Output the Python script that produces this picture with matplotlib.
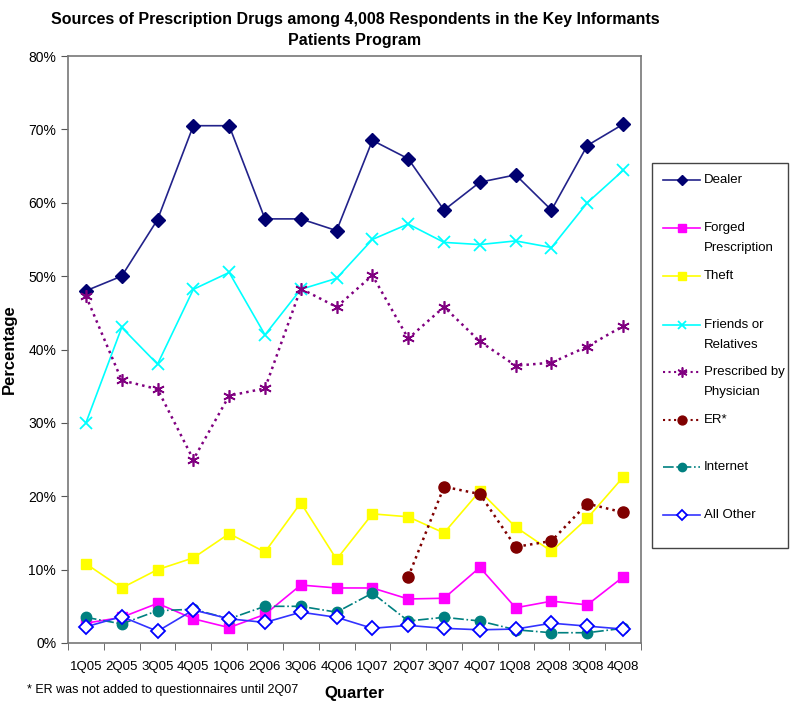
import matplotlib
matplotlib.use("Agg")
import matplotlib.pyplot as plt
from matplotlib.lines import Line2D
from matplotlib.patches import Rectangle
import numpy as np

plt.rcParams['font.family'] = ['Liberation Sans', 'DejaVu Sans']

quarters = ["1Q05", "2Q05", "3Q05", "4Q05", "1Q06", "2Q06", "3Q06", "4Q06",
            "1Q07", "2Q07", "3Q07", "4Q07", "1Q08", "2Q08", "3Q08", "4Q08"]

dealer = [48.0, 50.0, 57.7, 70.5, 70.5, 57.8, 57.8, 56.2, 68.5, 66.0, 59.0, 62.8, 63.8, 59.0, 67.8, 70.7]
forged = [2.7, 3.5, 5.4, 3.3, 2.1, 3.9, 7.9, 7.5, 7.5, 6.0, 6.1, 10.3, 4.8, 5.7, 5.2, 9.0]
theft = [10.8, 7.5, 10.0, 11.6, 14.9, 12.4, 19.1, 11.4, 17.6, 17.2, 15.0, 20.7, 15.8, 12.5, 17.0, 22.6]
friends = [30.0, 43.0, 38.0, 48.2, 50.5, 42.0, 48.2, 49.7, 55.0, 57.1, 54.6, 54.3, 54.8, 53.9, 60.0, 64.4]
prescribed = [47.3, 35.8, 34.6, 25.0, 33.7, 34.7, 48.3, 45.8, 50.1, 41.5, 45.8, 41.1, 37.8, 38.2, 40.4, 43.2]
er = [None] * 9 + [9.0, 21.3, 20.3, 13.1, 13.9, 19.0, 17.8]
internet = [3.5, 2.6, 4.4, 4.6, 3.3, 5.0, 5.0, 4.2, 6.8, 3.0, 3.5, 3.0, 1.8, 1.4, 1.4, 2.0]
all_other = [2.2, 3.6, 1.6, 4.5, 3.3, 2.8, 4.2, 3.5, 2.0, 2.4, 2.0, 1.8, 1.9, 2.7, 2.3, 1.9]

series = [
    ("Dealer", dealer, dict(color="#22228A", ls="-", marker="D", ms=7, mfc="#000070", mec="#000070")),
    ("Forged\nPrescription", forged, dict(color="#FF00FF", ls="-", marker="s", ms=6.5, mfc="#FF00FF", mec="#FF00FF")),
    ("Theft", theft, dict(color="#FFFF00", ls="-", marker="s", ms=6.5, mfc="#FFFF00", mec="#FFFF00")),
    ("Friends or\nRelatives", friends, dict(color="#00FFFF", ls="-", marker="x", ms=8, mew=1.3)),
    ("Prescribed by\nPhysician", prescribed, dict(color="#800080", ls=":", lw=1.8, marker=(6, 2, 0), ms=9, mew=1.2)),
    ("ER*", er, dict(color="#800000", ls=":", lw=1.8, marker="o", ms=8, mfc="#800000", mec="#800000")),
    ("Internet", internet, dict(color="#008080", ls="-.", marker="o", ms=7.5, mfc="#008080", mec="#008080")),
    ("All Other", all_other, dict(color="#3333FF", ls="-", marker="D", ms=7, mfc="white", mec="#0000FF", mew=1.3)),
]

fig = plt.figure(figsize=(7.91, 7.02), dpi=100)
ax = fig.add_axes([68 / 791, 1 - 643 / 702, (641 - 68) / 791, (643 - 56) / 702])

x = np.arange(len(quarters))
for name, vals, st in series:
    v = np.array([np.nan if a is None else a for a in vals], dtype=float)
    kw = dict(st)
    kw.setdefault("lw", 1.2)
    ax.plot(x, v, **kw)

ax.set_xlim(-0.5, len(quarters) - 0.5)
ax.set_ylim(0, 80)
ax.set_yticks(np.arange(0, 81, 10))
ax.set_yticklabels([f"{t}%" for t in range(0, 81, 10)], fontsize=10)
ax.set_xticks(x)
ax.set_xticklabels(quarters, fontsize=9.5)
ax.tick_params(axis="x", length=0, pad=13)
ax.set_xticks(np.arange(-0.5, len(quarters), 1), minor=True)
ax.tick_params(axis="x", which="minor", length=5, direction="out", color="#555555")
ax.tick_params(axis="y", length=5, direction="out", color="#555555")
for s in ax.spines.values():
    s.set_color("#777777")
    s.set_linewidth(1.2)

ax.set_ylabel("Percentage", fontsize=12, fontweight="bold", labelpad=8)
ax.set_xlabel("Quarter", fontsize=12, fontweight="bold", labelpad=9)
fig.text(355 / 791, 1 - 30 / 702, "Sources of Prescription Drugs among 4,008 Respondents in the Key Informants\nPatients Program",
         ha="center", va="center", fontsize=11.5, fontweight="bold", linespacing=1.5)
fig.text(27 / 791, 1 - 690 / 702, "* ER was not added to questionnaires until 2Q07", fontsize=9, va="center")

# Legend (manual, Excel-style)
W, H = 791, 702
fig.add_artist(Rectangle((652 / W, 1 - 548 / H), (788 - 652) / W, (548 - 163) / H,
                         transform=fig.transFigure, fill=False, ec="#444444", lw=1.0))
ys = [180, 228, 276, 325, 372, 420, 467, 515]
for (name, vals, st), yy in zip(series, ys):
    kw = dict(st)
    kw.setdefault("lw", 1.2)
    if kw["ls"] == ":":
        kw["lw"] = 1.5
    kw["ms"] = kw["ms"] * 0.8
    ln = Line2D([663 / W, 700 / W], [1 - yy / H, 1 - yy / H], transform=fig.transFigure,
                **{k: v for k, v in kw.items() if k not in ("marker", "ms", "mfc", "mec", "mew")})
    fig.add_artist(ln)
    mk = Line2D([681.5 / W], [1 - yy / H], transform=fig.transFigure, ls="none",
                **{k: v for k, v in kw.items() if k not in ("ls", "lw")})
    fig.add_artist(mk)
    for i, t in enumerate(name.split("\n")):
        fig.text(704 / W, 1 - (yy + i * 20) / H, t, fontsize=9.5, va="center")

fig.savefig("out.png", dpi=100)
